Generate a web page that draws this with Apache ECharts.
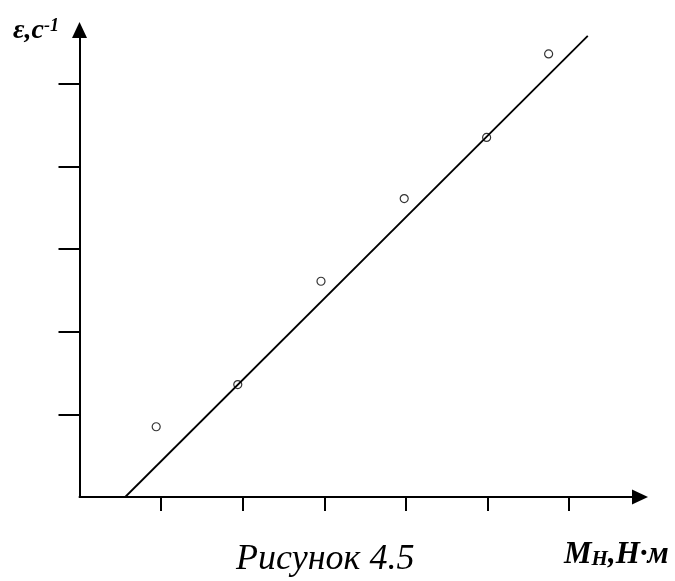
<!DOCTYPE html>
<html>
<head>
<meta charset="utf-8">
<script src="https://cdn.jsdelivr.net/npm/echarts@6/dist/echarts.min.js"></script>
<style>
  html, body { margin: 0; padding: 0; background: #fff; }
  #chart { width: 675px; height: 581px; }
</style>
</head>
<body>
<div id="chart"></div>
<script>
// measured points (M_H, eps)
const momentX = [0.94, 1.94, 2.96, 3.98, 4.99, 5.75];
const epsY = [0.85, 1.36, 2.61, 3.61, 4.35, 5.36];
// fitted straight line, two ends
const fitX = [0.56, 6.23];
const fitY = [0, 5.58];
// tick positions (no labels in the picture)
const xTicks = [1, 2, 3, 4, 5, 6];
const yTicks = [1, 2, 3, 4, 5];

const font = '"Liberation Serif", "Times New Roman", serif';

const chart = echarts.init(document.getElementById('chart'));
chart.setOption({
  animation: false,
  backgroundColor: '#fff',
  grid: { left: 79.5, right: 35, top: 30, bottom: 84 },
  xAxis: {
    type: 'value',
    min: 0,
    max: 6.87,
    axisLine: {
      lineStyle: { color: '#000', width: 2 },
      symbol: ['none', 'triangle'],
      symbolSize: [15, 16]
    },
    axisTick: { show: true, customValues: xTicks, length: 14, lineStyle: { color: '#000', width: 2 } },
    axisLabel: { show: false },
    splitLine: { show: false }
  },
  yAxis: {
    type: 'value',
    min: 0,
    max: 5.65,
    axisLine: {
      show: true,
      lineStyle: { color: '#000', width: 2 },
      symbol: ['none', 'triangle'],
      symbolSize: [15, 16]
    },
    axisTick: { show: true, customValues: yTicks, length: 21, lineStyle: { color: '#000', width: 2 } },
    axisLabel: { show: false },
    splitLine: { show: false }
  },
  series: [
    {
      type: 'line',
      data: fitX.map((x, i) => [x, fitY[i]]),
      showSymbol: false,
      lineStyle: { color: '#000', width: 1.8 },
      silent: true
    },
    {
      type: 'scatter',
      data: momentX.map((x, i) => [x, epsY[i]]),
      symbol: 'circle',
      symbolSize: 8,
      itemStyle: { color: '#fff', borderColor: '#000', borderWidth: 1.2 }
    }
  ],
  graphic: [
    {
      type: 'text',
      left: 13,
      top: 17,
      style: {
        text: '{a|ε,c}{s|-1}',
        rich: {
          a: { fontFamily: font, fontSize: 28, fontWeight: 'bold', fontStyle: 'italic', fill: '#000', verticalAlign: 'bottom' },
          s: { fontFamily: font, fontSize: 18, fontWeight: 'bold', fontStyle: 'italic', fill: '#000', verticalAlign: 'top' }
        }
      }
    },
    {
      type: 'text',
      left: 564,
      top: 539,
      style: {
        text: '{a|М}{b|Н}{a|,Н·м}',
        rich: {
          a: { fontFamily: font, fontSize: 31, fontWeight: 'bold', fontStyle: 'italic', fill: '#000', verticalAlign: 'bottom' },
          b: { fontFamily: font, fontSize: 21, fontWeight: 'bold', fontStyle: 'italic', fill: '#000', verticalAlign: 'bottom' }
        }
      }
    },
    {
      type: 'text',
      left: 236,
      top: 542,
      style: {
        text: 'Рисунок 4.5',
        fontFamily: font,
        fontSize: 36,
        fontStyle: 'italic',
        fill: '#000'
      }
    }
  ]
});
</script>
</body>
</html>
